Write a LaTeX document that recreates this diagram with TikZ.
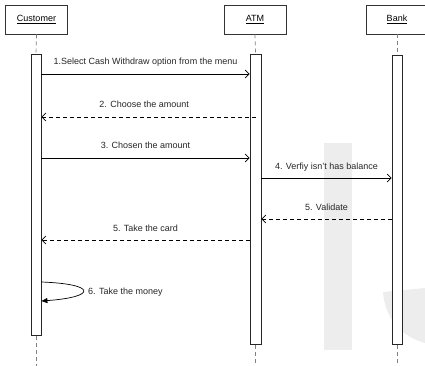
\documentclass[tikz,border=0pt]{standalone}
\usepackage{fontspec}
\setmainfont{Liberation Sans}
\usetikzlibrary{arrows.meta}
\begin{document}
\begin{tikzpicture}[x=1pt,y=-1pt,
  actor/.style={draw=black!80,line width=0.8pt,fill=white,minimum width=62pt,minimum height=29pt,inner sep=0pt,font=\fontsize{9}{10}\selectfont},
  actbar/.style={draw=black!85,line width=0.8pt,fill=white,minimum width=10pt,inner sep=0pt,anchor=north},
  life/.style={draw=black!50,line width=0.7pt,dash pattern=on 4pt off 3pt},
  msg/.style={draw=black,line width=0.7pt,-{Straight Barb[length=4pt,width=8pt]}},
  reply/.style={msg,dash pattern=on 4pt off 3pt},
  lbl/.style={font=\fontsize{9}{10}\selectfont,inner sep=0pt,anchor=base,yshift=9pt,text=black!85},
  wm/.style={fill=black!7,draw=none}]
\useasboundingbox (0,0) rectangle (425,366);
% watermark
\fill[wm] (324,143) rectangle (352,350);
\fill[wm] (383,292) -- (425,288) -- (425,343) .. controls (400,336) and (385,318) .. (383,292) -- cycle;
% actors
\node[actor] (cust) at (36.5,19.5) {\underline{Customer}};
\node[actor] (atm) at (255,19.5) {\underline{ATM}};
\node[actor] (bank) at (397,19.5) {\underline{Bank}};
% activation bars
\node[actbar,minimum height=281pt] (cbar) at (36,54) {};
\node[actbar,minimum width=11pt,minimum height=290pt] (abar) at (255.5,54) {};
\node[actbar,minimum height=289pt] (bbar) at (397,55) {};
\coordinate (cend) at (36,366);
\coordinate (aend) at (255.5,366);
\coordinate (bend) at (397,366);
% lifelines
\draw[life] (cust.south) -- (cbar.north);
\draw[life] (atm.south) -- (abar.north);
\draw[life] (bank.south) -- (bbar.north);
\draw[life] (cbar.south) -- (cend);
\draw[life] (abar.south) -- (aend);
\draw[life] (bbar.south) -- (bend);
% messages
\draw[msg] (cbar.east |- 0,74) -- node[lbl]{1.Select Cash Withdraw option from the menu} (abar.west |- 0,74);
\draw[reply] (abar.center |- 0,117) -- node[lbl,pos=0.52]{2. Choose the amount} (cbar.east |- 0,117);
\draw[msg] (cbar.east |- 0,158) -- node[lbl]{3. Chosen the amount} (abar.west |- 0,158);
\draw[msg] (abar.east |- 0,178) -- node[lbl]{4. Verfiy isn't has balance} (bbar.west |- 0,178);
\draw[reply] (bbar.west |- 0,219) -- node[lbl]{5. Validate} (abar.east |- 0,219);
\draw[reply] (abar.west |- 0,240) -- node[lbl]{5. Take the card} (cbar.east |- 0,240);
% self message
\draw[draw=black,line width=0.7pt,-{Triangle[length=6pt,width=5pt]}] (cbar.east |- 0,282) .. controls (97,284) and (97,297) .. (cbar.east |- 0,301);
\node[font=\fontsize{9}{10}\selectfont,inner sep=0pt,anchor=west,text=black!85] (selfl) at (88,292) {6. Take the money};
\end{tikzpicture}
\end{document}
